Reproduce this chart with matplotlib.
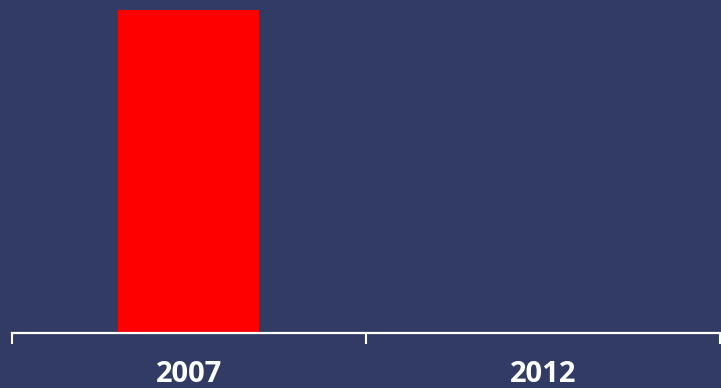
import matplotlib
matplotlib.use("Agg")
import matplotlib.pyplot as plt
from matplotlib.ticker import FixedLocator

categories = ["2007", "2012"]
values = [100, 0]

bg = "#323b63"
fig = plt.figure(figsize=(7.21, 3.88), dpi=100, facecolor=bg)
ax = fig.add_axes([11.5/721, (388-332.5)/388, (720-11.5)/721, (332.5-10)/388])
ax.set_facecolor(bg)
x = list(range(len(categories)))
ax.bar(x, values, width=0.40, color="#ff0000", zorder=1)
ax.set_xlim(-0.5, len(categories) - 0.5)
ax.set_ylim(0, max(values))
for s in ["top", "right", "left"]:
    ax.spines[s].set_visible(False)
ax.spines["bottom"].set_color("white")
ax.spines["bottom"].set_linewidth(1.6)
ax.spines["bottom"].set_zorder(3)
ax.set_yticks([])
ax.xaxis.set_major_locator(FixedLocator([-0.5, 0.5, 1.5]))
ax.set_xticklabels([])
ax.tick_params(axis="x", which="major", length=8, width=1.5, color="white", direction="out")
ax.xaxis.set_minor_locator(FixedLocator(x))
ax.set_xticklabels(categories, minor=True)
ax.tick_params(axis="x", which="minor", length=0, pad=20, labelcolor="white", labelsize=21)
for lab in ax.get_xticklabels(minor=True):
    lab.set_fontweight("bold")
    lab.set_family("Open Sans")
fig.savefig("out.png", dpi=100, facecolor=bg)
